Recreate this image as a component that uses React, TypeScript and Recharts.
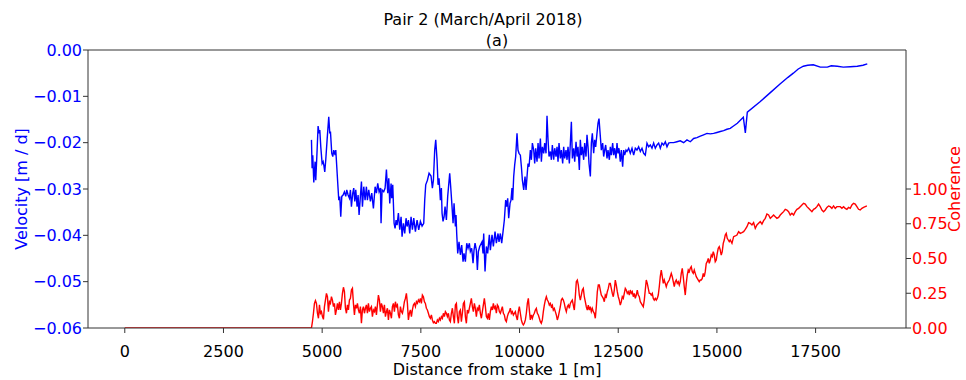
import React from "react";
import { LineChart, Line, XAxis, YAxis, ReferenceLine } from "recharts";

// distance ticks [m]
const distanceTicks = [0, 2500, 5000, 7500, 10000, 12500, 15000, 17500];
const velocityTicks = [-0.06, -0.05, -0.04, -0.03, -0.02, -0.01, 0];
const coherenceTicks = [0, 0.25, 0.5, 0.75, 1.0];

// velocity [m/d] as [distance, value]
const velocityUpper: [number, number][] = [
  [4729, -0.0194], [4745, -0.0255], [4762, -0.0227], [4788, -0.0286], [4821, -0.0241], [4838, -0.0281],
  [4872, -0.0216], [4897, -0.0164], [4923, -0.018], [4940, -0.0173], [4965, -0.0209], [4999, -0.0245],
  [5024, -0.0241], [5041, -0.0248], [5066, -0.0263], [5091, -0.0237], [5125, -0.0194], [5167, -0.0144],
  [5193, -0.018], [5210, -0.0176], [5243, -0.0223], [5269, -0.023], [5294, -0.0216], [5328, -0.0227],
  [5345, -0.0216], [5370, -0.0252], [5395, -0.0288], [5421, -0.0324], [5446, -0.0316], [5471, -0.036],
  [5497, -0.0316], [5530, -0.0313], [5564, -0.0306], [5598, -0.0316], [5623, -0.0302], [5657, -0.0313],
  [5691, -0.032], [5716, -0.0302], [5741, -0.0338], [5775, -0.0309], [5800, -0.0298], [5826, -0.0327],
  [5851, -0.0302], [5885, -0.0338], [5910, -0.0313], [5935, -0.0356], [5995, -0.0284], [6020, -0.0338],
  [6054, -0.0295], [6087, -0.0324], [6121, -0.0295], [6146, -0.0324], [6180, -0.0302], [6222, -0.0327],
  [6256, -0.0309], [6298, -0.0342], [6341, -0.0295], [6374, -0.0309], [6408, -0.0288], [6442, -0.0306],
  [6476, -0.0298], [6492, -0.0374], [6518, -0.0302], [6560, -0.0306], [6594, -0.0298], [6628, -0.0258],
  [6661, -0.0309], [6687, -0.0277], [6712, -0.0331], [6746, -0.0288], [6763, -0.032], [6788, -0.0291],
  [6822, -0.0374], [6847, -0.0385], [6872, -0.0367], [6898, -0.0378], [6931, -0.0352], [6965, -0.0388],
  [6999, -0.036], [7024, -0.0403], [7058, -0.0374], [7092, -0.0396], [7125, -0.0363], [7151, -0.0381],
  [7185, -0.0367], [7218, -0.0396], [7252, -0.036], [7286, -0.0388], [7320, -0.0363], [7362, -0.0392],
  [7404, -0.0367], [7446, -0.0388], [7488, -0.037], [7531, -0.038], [7573, -0.0374],
];

const velocityDip: [number, number][] = [
  [7598, -0.0324], [7623, -0.0291], [7666, -0.0281], [7708, -0.0266], [7758, -0.0272], [7792, -0.0298],
  [7818, -0.0281], [7851, -0.0216], [7877, -0.0194], [7910, -0.0237], [7936, -0.0291], [7961, -0.0277],
  [7995, -0.0324], [8020, -0.0298], [8037, -0.0352], [8062, -0.037], [8088, -0.036], [8113, -0.0338],
  [8147, -0.0367], [8180, -0.0316], [8231, -0.0266], [8256, -0.0295], [8290, -0.0338], [8316, -0.0374],
  [8341, -0.0331], [8375, -0.0381], [8391, -0.0356], [8408, -0.0396], [8434, -0.0439], [8467, -0.0414],
  [8501, -0.0442], [8535, -0.0421], [8569, -0.0457], [8594, -0.0439], [8628, -0.0457], [8662, -0.0417],
  [8695, -0.0428], [8729, -0.0417], [8754, -0.0435], [8788, -0.0428], [8822, -0.046], [8847, -0.0432],
  [8873, -0.0417], [8906, -0.0432], [8932, -0.0475], [8957, -0.0435], [8991, -0.0424], [9050, -0.0414],
  [9075, -0.0439], [9092, -0.0396], [9126, -0.0478], [9160, -0.0424], [9193, -0.0439], [9235, -0.0399],
  [9261, -0.0432], [9303, -0.0399], [9337, -0.0424], [9379, -0.0392], [9413, -0.0417], [9455, -0.0396],
  [9480, -0.0414], [9514, -0.0396], [9548, -0.0417], [9582, -0.0392], [9615, -0.0367], [9649, -0.0324],
  [9674, -0.0338], [9700, -0.032], [9725, -0.0363], [9759, -0.0331], [9784, -0.0324], [9809, -0.0298],
  [9826, -0.0324], [9852, -0.0273], [9877, -0.0248], [9902, -0.023], [9936, -0.018], [9961, -0.0216],
  [9987, -0.0223],
];

const velocityMiddle: [number, number][] = [
  [10021, -0.0227], [10047, -0.0252], [10072, -0.0281], [10106, -0.0302], [10139, -0.0273], [10165, -0.0302],
  [10190, -0.0273], [10215, -0.0245], [10241, -0.0252], [10274, -0.0216], [10300, -0.0237], [10325, -0.0201],
  [10359, -0.0216], [10384, -0.0245], [10409, -0.0212], [10443, -0.0241], [10469, -0.0201], [10494, -0.0234],
  [10528, -0.0191], [10553, -0.0241], [10578, -0.0209], [10612, -0.0223], [10637, -0.0201], [10671, -0.0223],
  [10696, -0.0142], [10722, -0.0194], [10747, -0.023], [10781, -0.0219], [10806, -0.0237], [10831, -0.0205],
  [10865, -0.0237], [10891, -0.0212], [10924, -0.023], [10950, -0.0209], [10975, -0.0241], [11000, -0.0201],
  [11034, -0.0234], [11059, -0.0216], [11093, -0.0245], [11118, -0.0209], [11144, -0.0234], [11177, -0.0216],
  [11203, -0.0237], [11228, -0.0209], [11262, -0.0245], [11287, -0.0201], [11313, -0.0155], [11338, -0.0234],
  [11372, -0.0212], [11397, -0.0241], [11431, -0.0198], [11456, -0.023], [11481, -0.0209], [11515, -0.0259],
  [11540, -0.0194], [11566, -0.0227], [11591, -0.0209], [11625, -0.0237], [11650, -0.0201], [11684, -0.023],
  [11709, -0.0183], [11735, -0.0209], [11760, -0.0245], [11794, -0.0273], [11819, -0.0201], [11844, -0.018],
  [11878, -0.0223], [11903, -0.0194], [11929, -0.0209], [11962, -0.018], [11988, -0.0158], [12013, -0.0148],
  [12047, -0.0187], [12072, -0.0216], [12106, -0.0201], [12131, -0.023], [12157, -0.0216], [12182, -0.0205],
  [12216, -0.0234], [12241, -0.0216], [12275, -0.0237], [12300, -0.0209], [12325, -0.0227], [12359, -0.0201],
  [12384, -0.0227], [12410, -0.0212], [12443, -0.0234], [12469, -0.0201], [12494, -0.0223], [12519, -0.0212],
  [12553, -0.0241], [12579, -0.0216], [12612, -0.0252], [12638, -0.0216], [12663, -0.0227], [12697, -0.0216],
  [12722, -0.0219], [12764, -0.0212], [12806, -0.0223], [12849, -0.0212], [12891, -0.0227], [12933, -0.0212],
  [12975, -0.0216], [13017, -0.0209], [13060, -0.0219], [13102, -0.0212], [13144, -0.0223], [13186, -0.0227],
  [13228, -0.0201], [13271, -0.0209], [13313, -0.0205], [13355, -0.0212], [13397, -0.0201], [13439, -0.0212],
  [13482, -0.0205], [13524, -0.0201], [13566, -0.0212], [13608, -0.0201], [13650, -0.0205], [13693, -0.0198],
  [13735, -0.0209], [13777, -0.0201], [13819, -0.02], [13904, -0.02], [13988, -0.0198], [14072, -0.0196],
  [14157, -0.02], [14241, -0.0194], [14326, -0.0198], [14410, -0.0191], [14494, -0.0189], [14579, -0.0186],
  [14663, -0.0183], [14748, -0.018], [14832, -0.0181], [14916, -0.018], [15001, -0.0178], [15085, -0.0176],
  [15170, -0.0174], [15254, -0.0171], [15338, -0.0169],
];

const velocityLower: [number, number][] = [
  [15420, -0.0164], [15517, -0.0158], [15669, -0.0145], [15720, -0.0179], [15770, -0.0134], [16100, -0.0111],
  [16353, -0.0092], [16606, -0.0073], [16800, -0.0059], [16936, -0.005], [17060, -0.0041], [17189, -0.0035],
  [17300, -0.0033], [17442, -0.0032], [17619, -0.0037], [17796, -0.0037], [17897, -0.0034], [18049, -0.0035],
  [18201, -0.0037], [18378, -0.0036], [18556, -0.0035], [18700, -0.0033], [18809, -0.003],
];

// coherence, sampled every 25.32 m from 4728.5 m (zero before that)
const cohStart = 4728.5;
const cohStep = 25.32;
const coherenceWest = [
  0.0, 0.046, 0.106, 0.177, 0.197, 0.177, 0.106, 0.07, 0.166, 0.106, 0.118, 0.082, 0.062, 0.154, 0.201, 0.249,
  0.225, 0.118, 0.189, 0.177, 0.225, 0.201, 0.154, 0.177, 0.094, 0.13, 0.177, 0.13, 0.189, 0.13, 0.177, 0.249,
  0.293, 0.261, 0.142, 0.106, 0.166, 0.13, 0.201, 0.213, 0.273, 0.285, 0.177, 0.094, 0.166, 0.142, 0.177, 0.13,
  0.106, 0.154, 0.034, 0.13, 0.154, 0.106, 0.142, 0.166, 0.106, 0.177, 0.118, 0.142, 0.154, 0.082, 0.13, 0.118,
  0.154, 0.094, 0.166, 0.237, 0.201, 0.118, 0.177, 0.154, 0.106, 0.166, 0.082, 0.118, 0.142, 0.058, 0.13, 0.106,
  0.07, 0.154, 0.177, 0.118, 0.189, 0.154, 0.166, 0.094, 0.07, 0.154, 0.118, 0.106, 0.142, 0.189, 0.213, 0.249,
  0.177, 0.058, 0.106, 0.13, 0.082, 0.13, 0.166, 0.177, 0.154, 0.189, 0.177, 0.201, 0.189, 0.213, 0.177, 0.237,
  0.225, 0.189, 0.177, 0.142, 0.13, 0.106, 0.082, 0.07, 0.094, 0.058, 0.038, 0.046, 0.034, 0.034, 0.058, 0.046,
  0.07, 0.058, 0.082, 0.07, 0.106, 0.082, 0.118, 0.106, 0.082, 0.106, 0.058, 0.046, 0.106, 0.142, 0.082, 0.034,
  0.166, 0.177, 0.082, 0.034, 0.118, 0.13, 0.046, 0.106, 0.177, 0.189, 0.082, 0.034, 0.13, 0.106, 0.142, 0.177,
  0.213, 0.154, 0.118, 0.177, 0.142, 0.082, 0.142, 0.13, 0.166, 0.106, 0.07, 0.118, 0.166, 0.213, 0.154, 0.082,
  0.07, 0.106, 0.058, 0.118, 0.154, 0.13, 0.177, 0.142, 0.154, 0.106, 0.166, 0.154, 0.118, 0.106, 0.13, 0.154,
  0.106, 0.094, 0.058, 0.046, 0.082, 0.106, 0.118, 0.142, 0.106, 0.118, 0.094, 0.106, 0.118, 0.082, 0.058, 0.118,
  0.154, 0.106,
];
const coherenceCentral = [
  0.058, 0.034, 0.022, 0.034, 0.058, 0.106, 0.177, 0.213, 0.129, 0.058, 0.094, 0.07, 0.094, 0.106, 0.129, 0.141,
  0.106, 0.094, 0.07, 0.046, 0.034, 0.058, 0.118, 0.165, 0.201, 0.225, 0.201, 0.189, 0.165, 0.177, 0.153, 0.165,
  0.129, 0.141, 0.118, 0.094, 0.058, 0.082, 0.118, 0.153, 0.201, 0.213, 0.201, 0.177, 0.141, 0.118, 0.153, 0.165,
  0.141, 0.177, 0.189, 0.201, 0.165, 0.129, 0.225, 0.333, 0.345, 0.309, 0.237, 0.201, 0.237, 0.273, 0.285, 0.225,
  0.189, 0.153, 0.129, 0.165, 0.129, 0.153, 0.118, 0.141, 0.118, 0.106, 0.07, 0.153, 0.261, 0.309, 0.309, 0.273,
  0.237, 0.225, 0.213, 0.189, 0.237, 0.225, 0.261, 0.285, 0.321, 0.321, 0.285, 0.249, 0.225, 0.273, 0.345, 0.309,
  0.261, 0.225, 0.201, 0.165, 0.189, 0.225, 0.213, 0.249, 0.285, 0.273, 0.249, 0.261, 0.237, 0.273, 0.249, 0.261,
  0.225, 0.249, 0.213, 0.237, 0.273, 0.237, 0.225, 0.189, 0.177, 0.165, 0.153, 0.201, 0.273, 0.345, 0.321, 0.285,
  0.249, 0.249, 0.237, 0.249, 0.213, 0.201, 0.213, 0.201, 0.213, 0.237, 0.297, 0.369, 0.417, 0.369, 0.321, 0.345,
  0.321, 0.297, 0.321, 0.333, 0.345, 0.369, 0.393, 0.369, 0.333, 0.297, 0.333, 0.345, 0.321, 0.333, 0.309, 0.333,
  0.393, 0.429, 0.369, 0.297, 0.237, 0.321, 0.381, 0.417, 0.405, 0.429, 0.441, 0.405, 0.393, 0.417, 0.393, 0.369,
  0.357, 0.345, 0.333, 0.345, 0.345, 0.357, 0.393, 0.369, 0.405, 0.465, 0.477, 0.501, 0.465, 0.489, 0.525, 0.513,
  0.549, 0.525, 0.477, 0.489, 0.537, 0.573, 0.585, 0.561, 0.525, 0.549, 0.609, 0.633, 0.669, 0.681, 0.645, 0.633,
  0.621, 0.633,
];
// coherence east of 15381 m, sampled every 42.2 m
const cohEastStart = 15381;
const cohEastStep = 42.2;
const coherenceEast = [
  0.609, 0.657, 0.662, 0.669, 0.693, 0.681, 0.686, 0.693, 0.71, 0.729, 0.758, 0.753, 0.741, 0.758, 0.717, 0.741,
  0.753, 0.765, 0.748, 0.772, 0.789, 0.82, 0.813, 0.789, 0.801, 0.813, 0.801, 0.789, 0.796, 0.813, 0.825, 0.837,
  0.854, 0.849, 0.837, 0.813, 0.825, 0.813, 0.837, 0.854, 0.861, 0.873, 0.885, 0.897, 0.892, 0.873, 0.861, 0.849,
  0.837, 0.854, 0.861, 0.873, 0.892, 0.873, 0.849, 0.837, 0.849, 0.868, 0.878, 0.873, 0.861, 0.878, 0.861, 0.873,
  0.873, 0.873, 0.861, 0.873, 0.861, 0.854, 0.868, 0.861, 0.885, 0.897, 0.892, 0.873, 0.854, 0.849, 0.861, 0.868,
  0.873, 0.878,
];

const velocityData = [...velocityUpper, ...velocityDip, ...velocityMiddle, ...velocityLower].map(([d, v]) => ({ d, v }));
const coherenceData = [
  { d: 0, c: 0 },
  ...[...coherenceWest, ...coherenceCentral].map((c, i) => ({ d: cohStart + i * cohStep, c })),
  ...coherenceEast.map((c, i) => ({ d: cohEastStart + i * cohEastStep, c })),
];

const FONT = "DejaVu Sans";
const fmtVel = (v: number) => (v < -1e-9 ? "\u2212" : "") + Math.abs(v).toFixed(2);

export default function App() {
  return (
    <div style={{ position: "absolute", left: 0, top: 0, width: 966, height: 380, background: "#fff", fontFamily: FONT }}>
      <LineChart width={966} height={380} margin={{ top: 50, right: 0, bottom: 0, left: 0 }}>
        <XAxis
          type="number"
          dataKey="d"
          domain={[-932, 19790]}
          ticks={distanceTicks}
          interval={0}
          allowDataOverflow
          height={52}
          tickSize={5}
          tickMargin={13}
          axisLine={{ stroke: "#333" }}
          tickLine={{ stroke: "#333" }}
          tick={{ fill: "#000", fontSize: 16, fontFamily: FONT }}
        />
        <YAxis
          yAxisId="left"
          orientation="left"
          width={88}
          domain={[-0.06, 0]}
          ticks={velocityTicks}
          interval={0}
          allowDataOverflow
          tickFormatter={fmtVel}
          tickSize={5}
          tickMargin={1}
          axisLine={{ stroke: "#333" }}
          tickLine={{ stroke: "#333" }}
          tick={{ fill: "#0000ff", fontSize: 16, fontFamily: FONT }}
        />
        <YAxis
          yAxisId="right"
          orientation="right"
          width={60}
          domain={[0, 2]}
          ticks={coherenceTicks}
          interval={0}
          allowDataOverflow
          tickFormatter={(v: number) => v.toFixed(2)}
          tickSize={5}
          tickMargin={1}
          axisLine={{ stroke: "#333" }}
          tickLine={{ stroke: "#333" }}
          tick={{ fill: "#ff0000", fontSize: 16, fontFamily: FONT }}
        />
        <ReferenceLine yAxisId="left" y={0} stroke="#333" strokeWidth={1} />
        <Line
          yAxisId="left"
          data={velocityData}
          dataKey="v"
          type="linear"
          stroke="#0000ff"
          strokeWidth={1.4}
          dot={false}
          isAnimationActive={false}
        />
        <Line
          yAxisId="right"
          data={coherenceData}
          dataKey="c"
          type="linear"
          stroke="#ff0000"
          strokeWidth={1.4}
          dot={false}
          isAnimationActive={false}
        />
      </LineChart>
      <svg width={966} height={380} style={{ position: "absolute", left: 0, top: 0, pointerEvents: "none" }}>
        <text x={483} y={25} textAnchor="middle" fontSize={16} fontFamily={FONT} fill="#000">
          Pair 2 (March/April 2018)
        </text>
        <text x={497} y={46} textAnchor="middle" fontSize={16} fontFamily={FONT} fill="#000">
          (a)
        </text>
        <text x={497} y={375} textAnchor="middle" fontSize={16} fontFamily={FONT} fill="#000">
          Distance from stake 1 [m]
        </text>
        <text x={27} y={189} textAnchor="middle" fontSize={16} fontFamily={FONT} fill="#0000ff" transform="rotate(-90 27 189)">
          Velocity [m / d]
        </text>
        <text x={960} y={189} textAnchor="middle" fontSize={16} fontFamily={FONT} fill="#ff0000" transform="rotate(-90 960 189)">
          Coherence
        </text>
      </svg>
    </div>
  );
}
